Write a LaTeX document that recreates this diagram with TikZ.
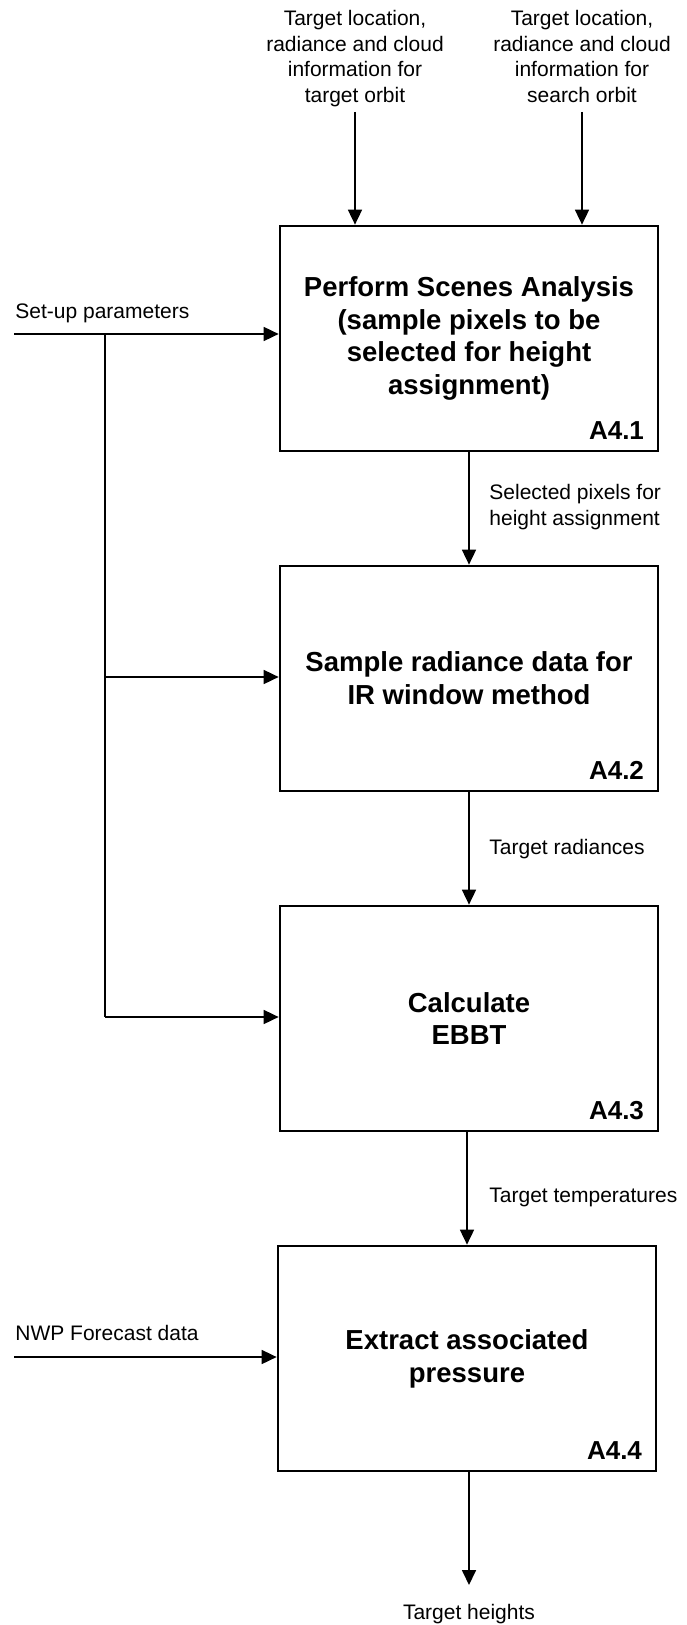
\documentclass[tikz,border=0pt]{standalone}
\usepackage{fontspec}
\setmainfont{Liberation Sans}
\usetikzlibrary{arrows.meta}
\tikzset{
  procbox/.style={draw, line width=1.35pt, minimum width=189pt, minimum height=112.5pt,
    inner sep=0pt, align=center, font=\fontsize{13.75}{16.4}\bfseries\selectfont},
  tag/.style={anchor=base east, inner sep=0pt, font=\fontsize{13}{15}\bfseries\selectfont},
  lbl/.style={inner sep=0pt, font=\fontsize{10.5}{12.75}\selectfont},
  flow/.style={line width=0.85pt, -{Triangle[length=7.5pt,width=7pt]}},
  plain/.style={line width=0.85pt},
}
\begin{document}
\begin{tikzpicture}[x=0.5pt,y=-0.5pt]
\useasboundingbox (0,0) rectangle (686,1625);

% activity boxes
\node[procbox] (b1) at (469,338.5) {Perform Scenes Analysis\\(sample pixels to be\\selected for height\\assignment)};
\node[procbox] (b2) at (469,678.5) {Sample radiance data for\\IR window method};
\node[procbox] (b3) at (469,1018.5) {Calculate\\EBBT};
\node[procbox] (b4) at (467,1358.5) {Extract associated\\pressure};

% activity numbers
\node[tag] (n1) at ([xshift=-7.5pt,yshift=6.5pt]b1.south east) {A4.1};
\node[tag] (n2) at ([xshift=-7.5pt,yshift=6.5pt]b2.south east) {A4.2};
\node[tag] (n3) at ([xshift=-7.5pt,yshift=6.5pt]b3.south east) {A4.3};
\node[tag] (n4) at ([xshift=-7.5pt,yshift=6.5pt]b4.south east) {A4.4};

% inputs from above
\node[lbl, anchor=north, align=center] (in1) at (355,10) {Target location,\\radiance and cloud\\information for\\target orbit};
\node[lbl, anchor=north, align=center] (in2) at (582,10) {Target location,\\radiance and cloud\\information for\\search orbit};
\coordinate (s1) at (355,112);
\coordinate (s2) at (582,112);
\draw[flow] (s1) -- (s1 |- b1.north);
\draw[flow] (s2) -- (s2 |- b1.north);

% set-up parameters feeding the first three activities
\node[lbl, anchor=base west] (sp) at (15,319) {Set-up parameters};
\coordinate (su) at (14,334);
\coordinate (j1) at (105,334);
\coordinate (j2) at (105,677);
\coordinate (j3) at (105,1017);
\draw[flow] (su) -- (su -| b1.west);
\draw[plain] (j1) -- (j3);
\draw[flow] (j2) -- (j2 -| b2.west);
\draw[flow] (j3) -- (j3 -| b3.west);

% flow between activities
\draw[flow] (b1.south) -- (b2.north);
\node[lbl, anchor=north west, align=left] (sel) at (489,484) {Selected pixels for\\height assignment};
\draw[flow] (b2.south) -- (b3.north);
\node[lbl, anchor=base west] (rad) at (489,854) {Target radiances};
\draw[flow] (b3.south -| b4.north) -- (b4.north);
\node[lbl, anchor=base west] (tmp) at (489,1202) {Target temperatures};

% forecast input
\node[lbl, anchor=base west] (nwp) at (15,1340) {NWP Forecast data};
\coordinate (fc) at (14,1357);
\draw[flow] (fc) -- (fc -| b4.west);

% final output
\coordinate (out) at (469,1585);
\draw[flow] (out |- b4.south) -- (out);
\node[lbl, anchor=base] (th) at (469,1619) {Target heights};
\end{tikzpicture}
\end{document}
